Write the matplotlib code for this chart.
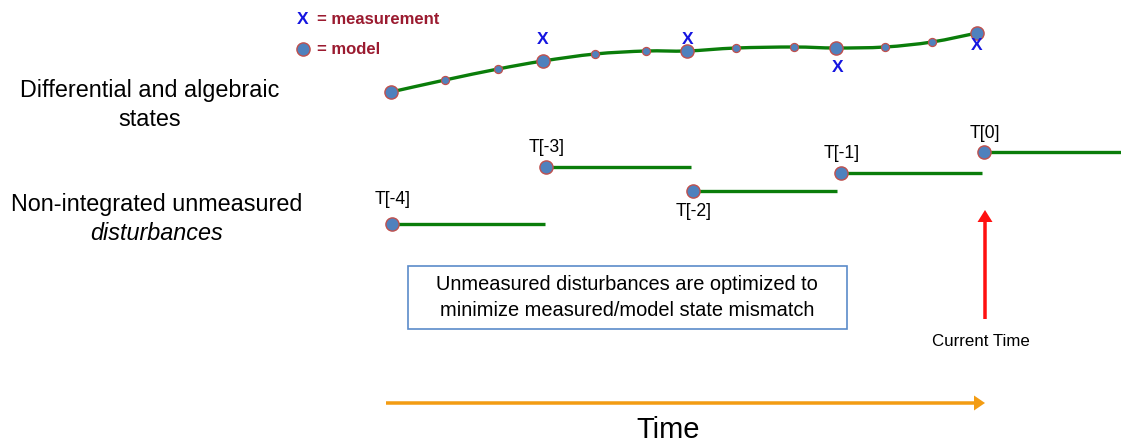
import matplotlib
matplotlib.use("Agg")
import matplotlib.pyplot as plt
from matplotlib.patches import FancyArrow, Rectangle, PathPatch
from matplotlib.path import Path

plt.rcParams['font.family'] = ['Liberation Sans', 'DejaVu Sans']

# ---- data (diagram coordinates, pixel-like units) ----
state_x = [391, 445, 498, 543, 595, 646, 687, 736, 794, 836, 885, 932, 977]
state_y = [92, 80, 69, 61, 54, 51, 51, 48, 47, 48, 47, 42, 33]
node_x = [391, 543, 687, 836, 977]          # large model points (sample times)
node_y = [92, 61, 51, 48, 33]
meas_x = [543, 688, 838, 977]
meas_y = [40, 40, 68, 46]

dist_x = [392, 546, 693, 841, 984]
dist_y = [224, 167, 191, 173, 152]
dist_end = [545, 691, 837, 982, 1121]
dist_labels = ['T[-4]', 'T[-3]', 'T[-2]', 'T[-1]', 'T[0]']
label_y = [200, 147, 211, 153, 133]

W, H = 1121, 445
fig = plt.figure(figsize=(W / 100, H / 100), dpi=100)
ax = fig.add_axes([0, 0, 1, 1])
ax.set_xlim(0, W)
ax.set_ylim(H, 0)
ax.axis('off')

green = '#0a7d0a'
face = '#4f81bd'
edge = '#c0504d'
blue = '#1515e0'
dred = '#9b1b30'

# smooth state curve (Catmull-Rom -> cubic Bezier path through the points)
pts = list(zip(state_x, state_y))
verts = [pts[0]]
codes = [Path.MOVETO]
n = len(pts)
for i in range(n - 1):
    p0 = pts[i - 1] if i > 0 else pts[i]
    p1 = pts[i]
    p2 = pts[i + 1]
    p3 = pts[i + 2] if i + 2 < n else pts[i + 1]
    c1 = (p1[0] + (p2[0] - p0[0]) / 6, p1[1] + (p2[1] - p0[1]) / 6)
    c2 = (p2[0] - (p3[0] - p1[0]) / 6, p2[1] - (p3[1] - p1[1]) / 6)
    verts += [c1, c2, p2]
    codes += [Path.CURVE4] * 3
ax.add_patch(PathPatch(Path(verts, codes), fill=False, ec=green, lw=2.4, zorder=2))

small = [i for i, x in enumerate(state_x) if x not in node_x]
ax.plot([state_x[i] for i in small], [state_y[i] for i in small], 'o', ms=5.8,
        mfc=face, mec=edge, mew=0.9, ls='none', zorder=3)
ax.plot(node_x, node_y, 'o', ms=9.5, mfc=face, mec=edge, mew=1.0, ls='none', zorder=4)
for x, y in zip(meas_x, meas_y):
    ax.text(x, y, 'X', color=blue, fontsize=12.5, fontweight='bold',
            ha='center', va='center', zorder=5)

# legend
ax.text(303, 19, 'X', color=blue, fontsize=12.5, fontweight='bold', ha='center', va='center')
ax.text(317, 19, '= measurement', color=dred, fontsize=12, fontweight='bold', ha='left', va='center')
ax.plot([303], [49], 'o', ms=9.5, mfc=face, mec=edge, mew=1.0)
ax.text(317, 49, '= model', color=dred, fontsize=12, fontweight='bold', ha='left', va='center')

# disturbances
for x0, y0, x1, lab, ly in zip(dist_x, dist_y, dist_end, dist_labels, label_y):
    ax.plot([x0, x1], [y0, y0], color=green, lw=2.4, solid_capstyle='butt', zorder=2)
    ax.plot([x0], [y0], 'o', ms=9.5, mfc=face, mec=edge, mew=1.0, zorder=4)
    ax.text(x0 + 1, ly, lab, fontsize=12.7, ha='center', va='center', color='black')

# left labels
ax.text(150, 90, 'Differential and algebraic', fontsize=16.8, ha='center', va='center')
ax.text(150, 120, 'states', fontsize=16.8, ha='center', va='center')
ax.text(157, 204, 'Non-integrated unmeasured', fontsize=16.8, ha='center', va='center')
ax.text(157, 233, 'disturbances', fontsize=16.8, ha='center', va='center', style='italic')

# box
ax.add_patch(Rectangle((408, 266), 439, 63, fill=False, ec='#5b8bc9', lw=1.2))
ax.text(627, 285, 'Unmeasured disturbances are optimized to', fontsize=14.4, ha='center', va='center')
ax.text(627, 310, 'minimize measured/model state mismatch', fontsize=14.4, ha='center', va='center')

# current time arrow
ax.add_patch(FancyArrow(985, 319, 0, -97, width=3.5, head_width=15, head_length=12,
                        length_includes_head=False, color='#ff1010', lw=0))
ax.text(981, 342, 'Current Time', fontsize=12.2, ha='center', va='center')

# time axis arrow
ax.add_patch(FancyArrow(386, 403, 588, 0, width=3.5, head_width=15, head_length=11,
                        length_includes_head=False, color='#f39c12', lw=0))
ax.text(668, 430, 'Time', fontsize=21, ha='center', va='center')

fig.savefig('out.png', dpi=100)
